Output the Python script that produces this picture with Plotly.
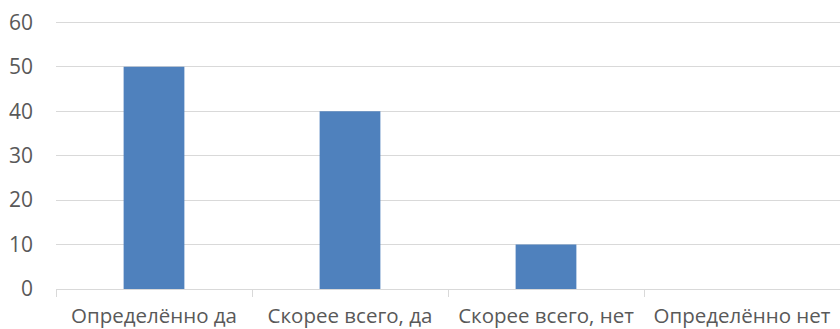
import plotly.graph_objects as go

categories = ["Определённо да", "Скорее всего, да", "Скорее всего, нет", "Определённо нет"]
values = [50, 40, 10, 0]
y_ticks = [0, 10, 20, 30, 40, 50, 60]

font_family = "Open Sans"
text_color = "#595959"
grid_color = "#D9D9D9"

fig = go.Figure(
    go.Bar(
        x=categories,
        y=values,
        marker=dict(color="#4F81BD", line=dict(width=0)),
        hoverinfo="skip",
    )
)

fig.update_layout(
    width=840,
    height=329,
    margin=dict(l=56, r=0, t=20, b=40, pad=0),
    paper_bgcolor="white",
    plot_bgcolor="white",
    bargap=0.69,
    showlegend=False,
    font=dict(family=font_family, size=21, color=text_color),
)

fig.update_xaxes(
    showline=True,
    linecolor=grid_color,
    linewidth=1,
    ticks="outside",
    tickson="boundaries",
    ticklen=7,
    tickcolor=grid_color,
    showgrid=False,
    tickfont=dict(family=font_family, size=20.5, color=text_color),
    ticklabelstandoff=8,
    automargin=False,
)

fig.update_yaxes(
    range=[0, 60.5],
    tickvals=y_ticks,
    showgrid=True,
    gridcolor=grid_color,
    gridwidth=1,
    zeroline=False,
    showline=False,
    ticks="",
    tickfont=dict(family=font_family, size=21, color=text_color),
    ticklabelstandoff=22,
    automargin=False,
)

# remove the default 8px page margin so the figure fills the window exactly
fig.write_html(
    "out.html",
    config={"displayModeBar": False, "staticPlot": True},
    post_script="document.body.style.margin='0';document.body.style.overflow='hidden';",
)
